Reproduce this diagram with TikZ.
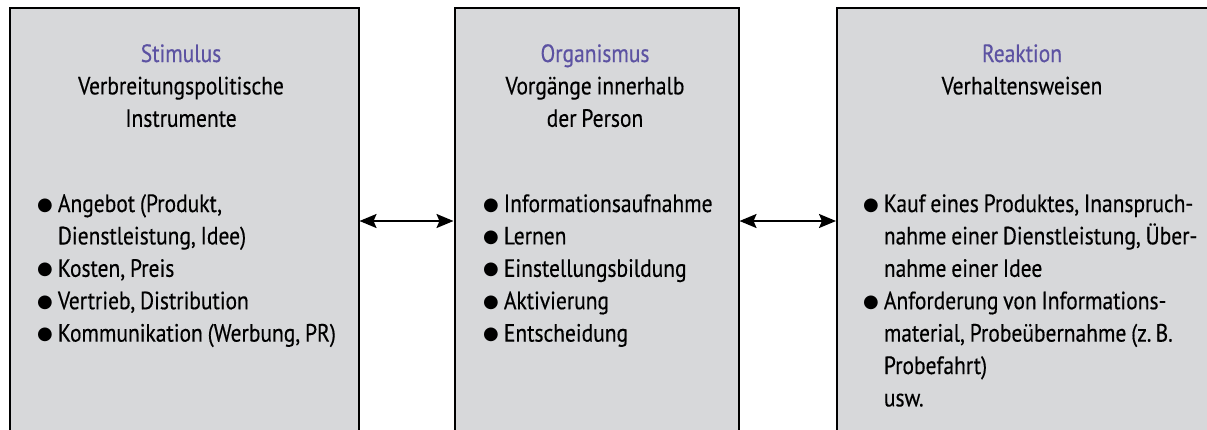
\documentclass[tikz,border=0pt]{standalone}
\usepackage{fontspec}
\setmainfont{PT Sans}[FakeStretch=0.86, WordSpace=0.85, FakeBold=0.4]
\newfontfamily\symfont{DejaVu Sans}
\usetikzlibrary{arrows.meta}
\definecolor{boxgray}{RGB}{215,216,218}
\definecolor{titlecol}{RGB}{92,82,162}
\newcommand\bul{\raisebox{2pt}{\symfont\fontsize{18}{18}\selectfont ●}}
\begin{document}
\begin{tikzpicture}[x=1pt,y=-1pt,
  box/.style={draw=black, line width=2pt, fill=boxgray, anchor=north west, inner sep=0pt, minimum height=427pt},
  txt/.style={inner sep=0pt, font=\fontsize{25}{32.4}\selectfont},
  title/.style={txt, anchor=base},
  list/.style={txt, anchor=base west},
  arr/.style={line width=2pt, {Stealth[length=17pt,width=14pt,inset=3pt]}-{Stealth[length=17pt,width=14pt,inset=3pt]}}]
\clip (0,0) rectangle (1207,429);
\node[box, minimum width=349pt] (S) at (8.5,6.5) {};
\node[box, minimum width=284pt] (O) at (453.5,6.5) {};
\node[box, minimum width=380pt] (R) at (836,6.5) {};
\draw[arr] (S.east) -- (O.west);
\draw[arr] (O.east) -- (R.west);
\node[title] (St) at (181,62) {\begin{tabular}[t]{@{}c@{}}\textcolor{titlecol}{Stimulus}\\Verbreitungspolitische\\Instrumente\end{tabular}};
\node[title] (Ot) at (595,62) {\begin{tabular}[t]{@{}c@{}}\textcolor{titlecol}{Organismus}\\Vorgänge innerhalb\\der Person\end{tabular}};
\node[title] (Rt) at (1022,62) {\begin{tabular}[t]{@{}c@{}}\textcolor{titlecol}{Reaktion}\\Verhaltensweisen\end{tabular}};
\node[list] (Sl) at (37,212) {\begin{tabular}[t]{@{}l@{\hspace{5pt}}l@{}}
\bul & Angebot (Produkt,\\
 & Dienstleistung, Idee)\\
\bul & Kosten, Preis\\
\bul & Vertrieb, Distribution\\
\bul & Kommunikation (Werbung, PR)
\end{tabular}};
\node[list] (Ol) at (483,212) {\begin{tabular}[t]{@{}l@{\hspace{5pt}}l@{}}
\bul & Informationsaufnahme\\
\bul & Lernen\\
\bul & Einstellungsbildung\\
\bul & Aktivierung\\
\bul & Entscheidung
\end{tabular}};
\node[list] (Rl) at (863,212) {\begin{tabular}[t]{@{}l@{\hspace{5pt}}l@{}}
\bul & Kauf eines Produktes, Inanspruch-\\
 & nahme einer Dienstleistung, Über-\\
 & nahme einer Idee\\
\bul & Anforderung von Informations-\\
 & material, Probeübernahme (z.\,B.\\
 & Probefahrt)\\
 & usw.
\end{tabular}};
\end{tikzpicture}
\end{document}
